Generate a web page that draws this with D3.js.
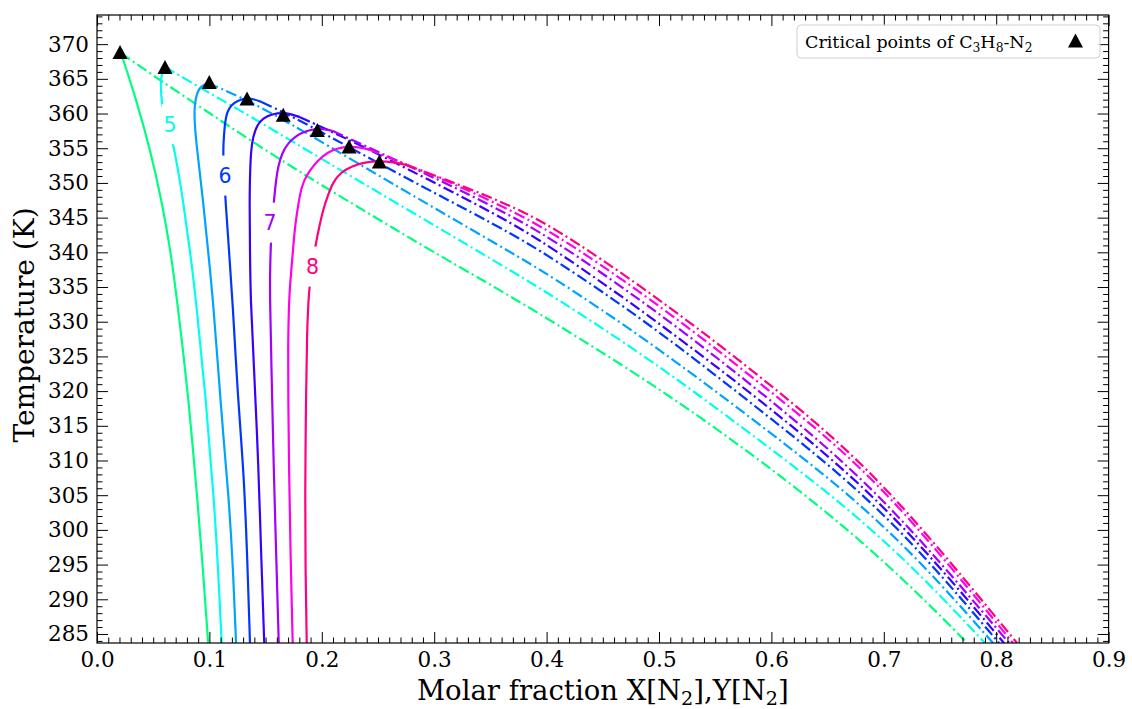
<!DOCTYPE html>
<html><head><meta charset="utf-8">
<script src="https://cdn.jsdelivr.net/npm/d3@7"></script>
<style>body{margin:0;background:#fff}svg{display:block}</style>
</head><body>
<svg id="chart" width="1132" height="709"></svg>
<script>
// ---------------- data (x = molar fraction N2, T = temperature K) ----------------
const pressures = [4.5, 5, 5.5, 6, 6.5, 7, 7.5, 8]; // MPa
const critX = [0.0205, 0.0605, 0.0999, 0.1335, 0.1657, 0.1960, 0.2242, 0.2512];
const critT = [368.85, 366.69, 364.53, 362.17, 359.84, 357.61, 355.26, 353.10];

// liquid (bubble) branches: solid lines
const liquid_P1 = [[0.0214,368.70],[0.0351,361.93],[0.0474,354.73],[0.0574,347.53],[0.0654,340.32],[0.0712,333.12],[0.0765,325.92],[0.0814,318.71],[0.0854,311.51],[0.0894,304.30],[0.0943,294.22],[0.0989,283.70]];
const liquid_P2 = [[0.0605,366.69],[0.0578,365.82],[0.0569,364.81],[0.0569,362.65],[0.0587,360.49],[0.0623,358.33],[0.0676,355.88],[0.0721,351.85],[0.0765,347.53],[0.0827,340.32],[0.0881,333.12],[0.0970,318.71],[0.1041,304.30],[0.1077,294.65],[0.1109,283.70]];
const liquid_P3 = [[0.0988,364.38],[0.0925,363.95],[0.0890,363.08],[0.0867,361.21],[0.0867,359.05],[0.0881,356.17],[0.0907,352.57],[0.0943,347.53],[0.0988,340.32],[0.1032,333.12],[0.1077,323.47],[0.1121,313.96],[0.1174,304.30],[0.1210,294.65],[0.1237,283.70]];
const liquid_P4 = [[0.1468,361.64],[0.1397,362.08],[0.1335,362.22],[0.1254,361.93],[0.1192,361.21],[0.1157,360.20],[0.1139,358.76],[0.1130,356.89],[0.1121,354.73],[0.1130,351.13],[0.1143,347.53],[0.1174,340.32],[0.1206,333.12],[0.1254,318.71],[0.1303,309.06],[0.1335,297.10],[0.1361,283.70]];
const liquid_P5 = [[0.1806,359.48],[0.1726,359.92],[0.1655,360.13],[0.1557,359.92],[0.1477,359.34],[0.1423,358.33],[0.1388,356.60],[0.1370,354.73],[0.1361,351.13],[0.1357,347.53],[0.1361,340.32],[0.1366,333.12],[0.1397,323.47],[0.1437,309.06],[0.1459,297.10],[0.1488,283.70]];
const liquid_P6 = [[0.2100,357.47],[0.2028,357.75],[0.1957,357.83],[0.1851,357.47],[0.1770,356.75],[0.1699,355.74],[0.1646,354.30],[0.1610,352.28],[0.1593,350.41],[0.1575,347.53],[0.1557,344.36],[0.1548,341.76],[0.1539,337.44],[0.1539,333.12],[0.1552,323.47],[0.1572,309.06],[0.1593,297.10],[0.1617,283.70]];
const liquid_P7 = [[0.2411,354.87],[0.2322,355.16],[0.2242,355.23],[0.2144,355.02],[0.2055,354.44],[0.1966,353.29],[0.1895,351.85],[0.1842,350.41],[0.1815,348.97],[0.1797,347.53],[0.1762,343.92],[0.1744,340.32],[0.1721,336.00],[0.1708,333.12],[0.1699,325.92],[0.1702,318.71],[0.1708,309.06],[0.1721,297.10],[0.1741,283.70]];
const liquid_P8 = [[0.2758,352.57],[0.2633,353.00],[0.2518,353.14],[0.2384,353.00],[0.2269,352.42],[0.2171,351.56],[0.2100,350.12],[0.2055,348.25],[0.2011,346.09],[0.1975,343.49],[0.1948,341.33],[0.1922,338.88],[0.1904,336.72],[0.1886,334.56],[0.1868,328.80],[0.1859,318.71],[0.1851,304.30],[0.1855,294.22],[0.1866,283.70]];

// vapour (dew) branches: dash-dot lines
const vapour_P1 = [[0.0214,368.70],[0.0560,364.81],[0.0988,360.20],[0.1361,356.17],[0.1806,351.56],[0.2411,345.65],[0.2963,340.32],[0.3585,334.56],[0.4030,330.24],[0.4920,321.30],[0.5810,311.22],[0.6699,299.98],[0.7367,289.90],[0.7740,283.70]];
const vapour_P2 = [[0.0605,366.69],[0.0988,363.08],[0.1361,359.63],[0.1806,355.30],[0.2696,346.80],[0.3585,338.30],[0.4030,333.98],[0.4920,324.62],[0.5810,313.96],[0.6699,303.01],[0.7367,292.92],[0.7900,283.70]];
const vapour_P3 = [[0.0988,364.38],[0.1361,361.79],[0.1806,357.75],[0.2696,349.25],[0.3585,340.90],[0.4030,336.72],[0.4920,327.07],[0.5810,316.26],[0.6699,305.17],[0.7367,294.80],[0.7972,283.70]];
const vapour_P4 = [[0.1468,361.64],[0.1806,359.05],[0.2696,351.13],[0.3585,343.64],[0.4030,339.46],[0.4920,329.66],[0.5810,318.42],[0.6699,307.04],[0.7367,296.24],[0.8025,283.70]];
const vapour_P5 = [[0.1806,359.48],[0.2251,356.17],[0.2696,352.57],[0.3585,345.22],[0.4030,340.90],[0.4920,330.81],[0.5810,319.86],[0.6699,308.19],[0.7367,297.24],[0.8069,283.70]];
const vapour_P6 = [[0.2100,357.47],[0.2429,355.02],[0.2696,353.00],[0.3141,349.69],[0.3585,346.08],[0.4030,342.19],[0.4920,332.25],[0.5810,321.16],[0.6699,309.20],[0.7367,297.96],[0.8114,283.70]];
const vapour_P7 = [[0.2411,354.87],[0.2696,353.00],[0.3141,350.12],[0.3585,346.80],[0.4030,343.20],[0.4920,333.41],[0.5810,322.31],[0.6699,310.79],[0.7367,299.26],[0.8149,283.70]];
const vapour_P8 = [[0.2758,352.57],[0.3141,350.26],[0.3585,347.38],[0.4030,344.07],[0.4920,334.27],[0.5810,323.32],[0.6699,311.51],[0.7367,299.84],[0.8185,283.70]];

// inline contour-style labels
const labelText  = ["5", "6", "7", "8"];
const labelCurve = [1, 3, 5, 7];
const labelX = [0.0649, 0.1139, 0.1539, 0.1917];
const labelT = [358.47, 351.06, 344.28, 337.94];

// axes
const xTicks = [0.0, 0.1, 0.2, 0.3, 0.4, 0.5, 0.6, 0.7, 0.8, 0.9];
const xTickLabels = ["0.0","0.1","0.2","0.3","0.4","0.5","0.6","0.7","0.8","0.9"];
const yTicks = [285,290,295,300,305,310,315,320,325,330,335,340,345,350,355,360,365,370];
const xDomain = [0, 0.9];
const yDomain = [283.7, 374.2];

const liquids = [liquid_P1, liquid_P2, liquid_P3, liquid_P4, liquid_P5, liquid_P6, liquid_P7, liquid_P8];
const vapours = [vapour_P1, vapour_P2, vapour_P3, vapour_P4, vapour_P5, vapour_P6, vapour_P7, vapour_P8];

// ---------------- drawing ----------------
const L = 97, R = 1108.6, T = 15, B = 643;
const serif = "'DejaVu Serif', serif";
const svg = d3.select("#chart");
const x = d3.scaleLinear().domain(xDomain).range([L, R]);
const y = d3.scaleLinear().domain(yDomain).range([B, T]);
const hue = d3.scaleLinear().domain([0, pressures.length - 1]).range([150, 330]);
const col = i => d3.hsl(hue(i), 1, 0.5).formatHex();

svg.append("defs").append("clipPath").attr("id", "clip")
  .append("rect").attr("x", L).attr("y", T).attr("width", R - L).attr("height", B - T);

const plot = svg.append("g").attr("clip-path", "url(#clip)");
const line = d3.line().x(d => x(d[0])).y(d => y(d[1])).curve(d3.curveBasis);

vapours.forEach((v, i) => {
  plot.append("path").attr("d", line(v)).attr("fill", "none")
    .attr("stroke", col(i)).attr("stroke-width", 2.2)
    .attr("stroke-dasharray", "11,3.5,2,3.5");
});
liquids.forEach((v, i) => {
  plot.append("path").attr("d", line(v)).attr("fill", "none")
    .attr("stroke", col(i)).attr("stroke-width", 2.2);
});

// labels (break the line like matplotlib clabel)
labelText.forEach((t, k) => {
  const cx = x(labelX[k]), cy = y(labelT[k]);
  plot.append("rect").attr("x", cx - 8).attr("y", cy - 20).attr("width", 16).attr("height", 40).attr("fill", "#fff");
  plot.append("text").attr("x", cx).attr("y", cy).attr("dy", "0.36em")
    .attr("text-anchor", "middle").attr("font-family", "'DejaVu Sans', sans-serif")
    .attr("font-size", 20.5).attr("fill", col(labelCurve[k])).text(t);
});

// critical points
const tri = (w, h) => `M0,${-h/2}L${w/2},${h/2}L${-w/2},${h/2}Z`;
critX.forEach((cxv, i) => {
  svg.append("path").attr("d", tri(15, 14))
    .attr("transform", `translate(${x(cxv)},${y(critT[i])})`).attr("fill", "#000");
});

// axes with inward ticks on all sides
const xMinor = d3.range(0, 91).filter(i => i % 10 !== 0).map(i => i / 100);
const yMinor = d3.range(284, 375).filter(d => d % 5 !== 0);
function styleAxis(g) {
  g.select(".domain").remove();
  g.selectAll("line").attr("stroke", "#000").attr("stroke-width", 1);
  g.selectAll("text").attr("font-family", serif).attr("font-size", 21.5).attr("fill", "#000");
}
svg.append("g").attr("transform", `translate(0,${B})`)
  .call(d3.axisBottom(x).tickValues(xTicks).tickFormat((d, i) => xTickLabels[i]).tickSize(-11).tickSizeOuter(0).tickPadding(9)).call(styleAxis);
svg.append("g").attr("transform", `translate(0,${B})`)
  .call(d3.axisBottom(x).tickValues(xMinor).tickFormat("").tickSize(-5.5).tickSizeOuter(0)).call(styleAxis);
svg.append("g").attr("transform", `translate(0,${T})`)
  .call(d3.axisTop(x).tickValues(xTicks).tickFormat("").tickSize(-11).tickSizeOuter(0)).call(styleAxis);
svg.append("g").attr("transform", `translate(0,${T})`)
  .call(d3.axisTop(x).tickValues(xMinor).tickFormat("").tickSize(-5.5).tickSizeOuter(0)).call(styleAxis);
svg.append("g").attr("transform", `translate(${L},0)`)
  .call(d3.axisLeft(y).tickValues(yTicks).tickFormat(d3.format("d")).tickSize(-11).tickSizeOuter(0).tickPadding(8)).call(styleAxis);
svg.append("g").attr("transform", `translate(${L},0)`)
  .call(d3.axisLeft(y).tickValues(yMinor).tickFormat("").tickSize(-5.5).tickSizeOuter(0)).call(styleAxis);
svg.append("g").attr("transform", `translate(${R},0)`)
  .call(d3.axisRight(y).tickValues(yTicks).tickFormat("").tickSize(-11).tickSizeOuter(0)).call(styleAxis);
svg.append("g").attr("transform", `translate(${R},0)`)
  .call(d3.axisRight(y).tickValues(yMinor).tickFormat("").tickSize(-5.5).tickSizeOuter(0)).call(styleAxis);

svg.append("rect").attr("x", L).attr("y", T).attr("width", R - L).attr("height", B - T)
  .attr("fill", "none").attr("stroke", "#000").attr("stroke-width", 1.2);

// axis titles
const xt = svg.append("text").attr("x", (L + R) / 2).attr("y", 700).attr("text-anchor", "middle")
  .attr("font-family", serif).attr("font-size", 27.5).attr("fill", "#000");
xt.append("tspan").text("Molar fraction X[N");
xt.append("tspan").attr("font-size", 19.2).attr("dy", 5).text("2");
xt.append("tspan").attr("dy", -5).text("],Y[N");
xt.append("tspan").attr("font-size", 19.2).attr("dy", 5).text("2");
xt.append("tspan").attr("dy", -5).text("]");

svg.append("text").attr("transform", `translate(34,325) rotate(-90)`)
  .attr("text-anchor", "middle").attr("font-family", serif).attr("font-size", 28)
  .attr("fill", "#000").text("Temperature (K)");

// legend
const lg = svg.append("g");
lg.append("rect").attr("x", 797).attr("y", 25).attr("width", 303).attr("height", 33).attr("rx", 4)
  .attr("fill", "#fff").attr("fill-opacity", 0.8).attr("stroke", "#d0d0d0").attr("stroke-width", 1);
const lt = lg.append("text").attr("x", 805).attr("y", 47.5).attr("font-family", serif)
  .attr("font-size", 17.5).attr("fill", "#000");
lt.append("tspan").text("Critical points of C");
lt.append("tspan").attr("font-size", 12.3).attr("dy", 4).text("3");
lt.append("tspan").attr("dy", -4).text("H");
lt.append("tspan").attr("font-size", 12.3).attr("dy", 4).text("8");
lt.append("tspan").attr("dy", -4).text("-N");
lt.append("tspan").attr("font-size", 12.3).attr("dy", 4).text("2");
lg.append("path").attr("d", tri(15, 14)).attr("transform", "translate(1075.5,40.5)").attr("fill", "#000");
</script>
</body></html>
